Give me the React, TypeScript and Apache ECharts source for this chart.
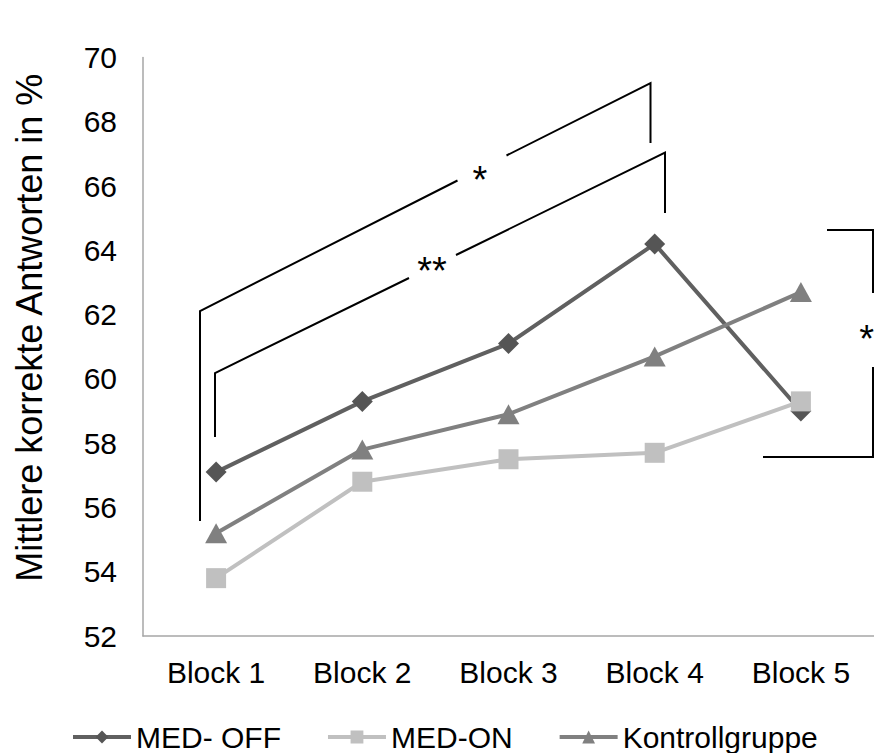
import React, { useEffect, useRef } from "react";
import * as echarts from "echarts";

const categories = ["Block 1", "Block 2", "Block 3", "Block 4", "Block 5"];
const medOff = [57.1, 59.3, 61.1, 64.2, 59.0];
const medOn = [53.8, 56.8, 57.5, 57.7, 59.3];
const kontroll = [55.2, 57.8, 58.9, 60.7, 62.7];
const yTicks = { min: 52, max: 70, interval: 2 };
const seriesNames = ["MED- OFF", "MED-ON", "Kontrollgruppe"];
const yTitle = "Mittlere korrekte Antworten in %";

const FONT = "'Liberation Sans', Arial, sans-serif";

export default function App() {
  const ref = useRef<HTMLDivElement>(null);
  useEffect(() => {
    if (!ref.current) return;
    const chart = echarts.init(ref.current, null, { renderer: "svg" });
    const lineBlack = { stroke: "#000", lineWidth: 2 };
    const star = { fontSize: 38, fontFamily: FONT, fill: "#000", verticalAlign: "middle" };
    chart.setOption({
      animation: false,
      backgroundColor: "#fff",
      grid: { left: 143, top: 57.5, width: 732, height: 578.5, containLabel: false },
      xAxis: {
        type: "category",
        data: categories,
        boundaryGap: true,
        axisLine: { show: true, lineStyle: { color: "#a6a6a6", width: 1.5 } },
        axisTick: { show: false },
        axisLabel: { color: "#000", fontSize: 30, fontFamily: FONT, margin: 21 },
        splitLine: { show: false },
      },
      yAxis: {
        type: "value",
        min: yTicks.min,
        max: yTicks.max,
        interval: yTicks.interval,
        name: yTitle,
        nameLocation: "middle",
        nameGap: 96,
        nameRotate: 90,
        nameTextStyle: { color: "#000", fontSize: 36, fontFamily: FONT, padding: [0, 0, 0, 38] },
        axisLine: { show: true, lineStyle: { color: "#a6a6a6", width: 1.5 } },
        axisTick: { show: false },
        axisLabel: { color: "#000", fontSize: 30, fontFamily: FONT, margin: 26 },
        splitLine: { show: false },
      },
      legend: {
        left: 66,
        top: 717,
        itemWidth: 58,
        itemHeight: 16,
        itemGap: 45,
        lineStyle: { width: 4 },
        textStyle: { color: "#000", fontSize: 30, fontFamily: FONT },
        data: seriesNames,
      },
      series: [
        {
          name: seriesNames[0],
          type: "line",
          data: medOff,
          symbol: "diamond",
          symbolSize: 21,
          lineStyle: { color: "#606060", width: 4 },
          itemStyle: { color: "#555555" },
          z: 2,
        },
        {
          name: seriesNames[1],
          type: "line",
          data: medOn,
          symbol: "rect",
          symbolSize: 20,
          lineStyle: { color: "#c0c0c0", width: 4 },
          itemStyle: { color: "#c0c0c0" },
          z: 3,
        },
        {
          name: seriesNames[2],
          type: "line",
          data: kontroll,
          symbol: "triangle",
          symbolSize: [22, 20],
          lineStyle: { color: "#808080", width: 4 },
          itemStyle: { color: "#808080" },
          z: 4,
        },
      ],
      graphic: [
        // outer bracket (*)
        { type: "polyline", shape: { points: [[200, 521], [200, 311], [457.5, 180.5]] }, style: { ...lineBlack, fill: null } },
        { type: "polyline", shape: { points: [[506.5, 155.5], [650.5, 83], [650.5, 143]] }, style: { ...lineBlack, fill: null } },
        { type: "text", x: 480, y: 180, style: { ...star, text: "*", align: "center" } },
        // inner bracket (**)
        { type: "polyline", shape: { points: [[215, 437], [215, 373], [409, 278]] }, style: { ...lineBlack, fill: null } },
        { type: "polyline", shape: { points: [[456, 255], [665, 152.5], [665, 213]] }, style: { ...lineBlack, fill: null } },
        { type: "text", x: 432, y: 271, style: { ...star, text: "**", align: "center" } },
        // right bracket (*)
        { type: "polyline", shape: { points: [[827, 230], [873, 230], [873, 293]] }, style: { ...lineBlack, fill: null } },
        { type: "polyline", shape: { points: [[873, 367], [873, 457], [763, 457]] }, style: { ...lineBlack, fill: null } },
        { type: "text", x: 874, y: 339, style: { ...star, text: "*", align: "right" } },
      ],
    });
    return () => chart.dispose();
  }, []);
  return (
    <div
      ref={ref}
      style={{ position: "fixed", left: 0, top: 0, width: 874, height: 753, background: "#fff" }}
    />
  );
}
